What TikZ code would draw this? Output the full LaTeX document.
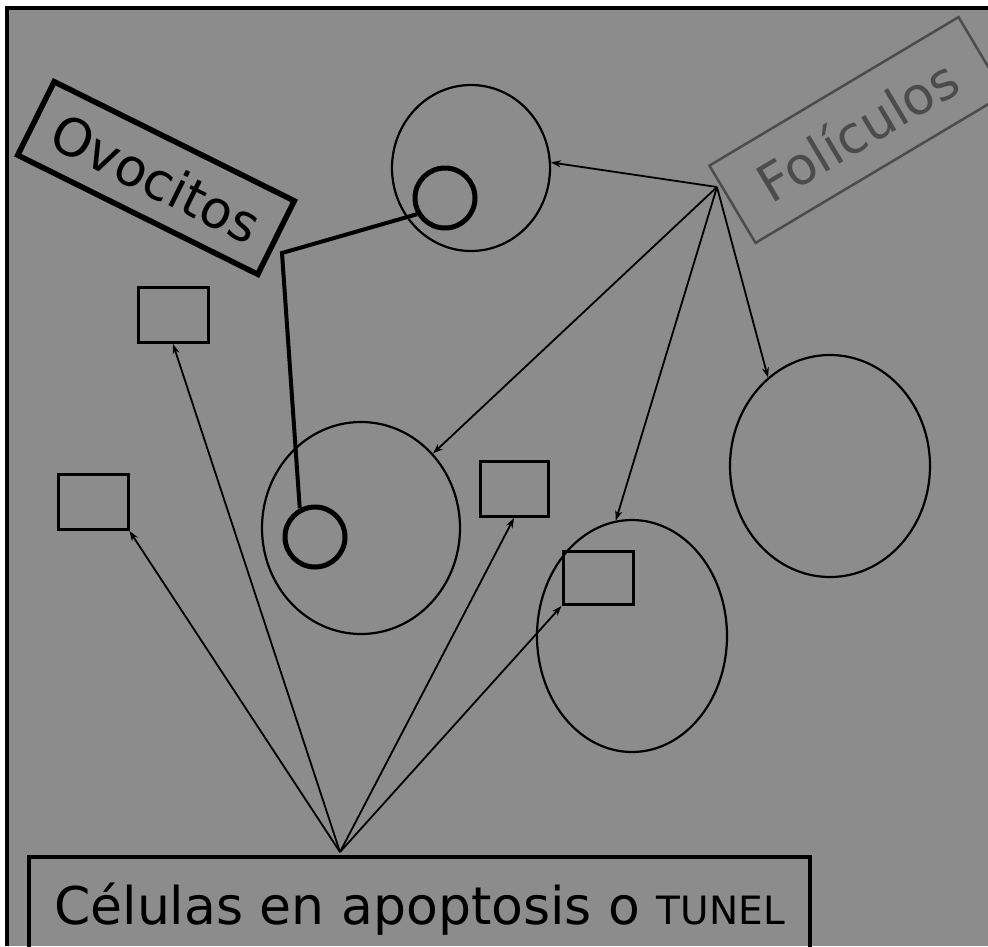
\documentclass[tikz,border=0pt]{standalone}
\usepackage{fontspec}
\setmainfont{DejaVu Sans}
\usetikzlibrary{shapes.geometric,arrows.meta}

\begin{document}
\begin{tikzpicture}[x=1pt, y=-1pt,
    cellwall/.style={draw, ellipse, line width=2.2pt, inner sep=0pt},
    nucleus/.style={draw, circle, line width=5pt, minimum size=60pt, inner sep=0pt},
    spot/.style={draw, rectangle, line width=3pt, minimum width=70pt, minimum height=55pt, inner sep=0pt},
    pointer/.style={line width=1.8pt, -{Stealth[length=10pt,width=7pt]}},
    bigtext/.style={font=\fontsize{52}{60}\selectfont}]

    % BACKGROUND AND FRAME
    \fill[white] (0,0) rectangle (988,946);
    \fill[black!45] (7,8) rectangle (988,946);
    \useasboundingbox (0,0) rectangle (988,946);
    \draw[line width=4pt] (7,946) -- (7,8) -- (988,8);

    % 1. FOLLICLES (thin outlines)
    \node[cellwall, minimum width=158pt, minimum height=166pt] (fUp) at (471,168) {};
    \node[cellwall, minimum width=198pt, minimum height=212pt] (fLow) at (361,528) {};
    \node[cellwall, minimum width=190pt, minimum height=232pt] (fMid) at (632,636) {};
    \node[cellwall, minimum width=200pt, minimum height=222pt] (fRight) at (830,466) {};

    % 2. OOCYTES
    \node[nucleus] (ocUp) at (445,198) {};
    \node[nucleus] (ocDown) at (315,537) {};

    % 3. APOPTOTIC SPOTS
    \node[spot] (r1) at (173,315) {};
    \node[spot] (r2) at (93,502) {};
    \node[spot, minimum width=68pt] (r3) at (514,489) {};
    \node[spot, minimum height=53pt] (r4) at (598,578) {};

    % LABELS
    \node[draw, line width=5.5pt, rotate=-26.4, minimum width=268pt, minimum height=82pt,
        bigtext] (ovo) at (156,178) {Ovocitos};
    \node[draw=black!70, text=black!70, line width=2.5pt, rotate=30.8,
        minimum width=290pt, minimum height=90pt, bigtext] (fol) at (857,130) {Folículos};
    \node[draw, line width=4pt, anchor=north west, minimum width=781pt, inner sep=0pt,
        text height=67.5pt, text depth=67.5pt, bigtext] (apo) at (27,855)
        {Células en apoptosis o {\fontsize{39}{45}\selectfont TUNEL}};

    \coordinate (ovoKnee) at (282,253);
    \coordinate (folHub) at (717,187);
    \coordinate (apoHub) at (340,852);

    % LINKS FROM OVOCITOS
    \draw[line width=4pt] (ocUp.210) -- (ovoKnee) -- (ocDown.118);

    % LINKS FROM FOLICULOS
    \foreach \t in {fUp.4, fLow.46, fMid.98, fRight.125}
        \draw[pointer] (folHub) -- (\t);

    % LINKS FROM APOPTOSIS
    \foreach \t in {r1.south, r2.south east, r3.south, r4.south west}
        \draw[pointer] (apoHub) -- (\t);

\end{tikzpicture}
\end{document}
